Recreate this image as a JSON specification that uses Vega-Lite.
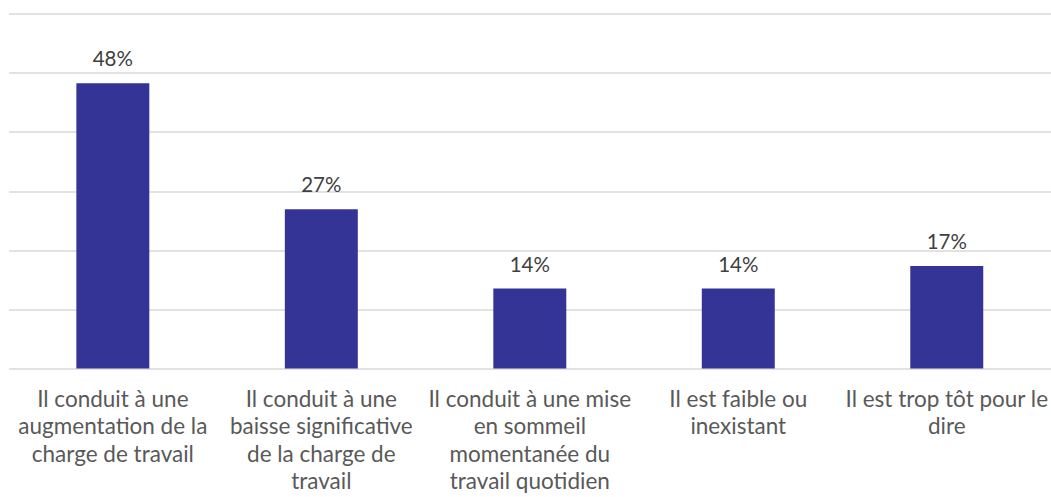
{
  "$schema": "https://vega.github.io/schema/vega-lite/v6.json",
  "autosize": "none",
  "width": 1042.4,
  "height": 355,
  "padding": {"left": 8.6, "top": 13.4, "right": 0, "bottom": 128.6},
  "background": "white",
  "data": {
    "values": [
      {"categorie": "Il conduit à une\naugmentation de la\ncharge de travail", "part": 48.2, "etiquette": "48%"},
      {"categorie": "Il conduit à une\nbaisse significative\nde la charge de\ntravail", "part": 26.9, "etiquette": "27%"},
      {"categorie": "Il conduit à une mise\nen sommeil\nmomentanée du\ntravail quotidien", "part": 13.5, "etiquette": "14%"},
      {"categorie": "Il est faible ou\ninexistant", "part": 13.5, "etiquette": "14%"},
      {"categorie": "Il est trop tôt pour le\ndire", "part": 17.3, "etiquette": "17%"}
    ]
  },
  "config": {
    "view": {"stroke": null},
    "font": "Lato"
  },
  "encoding": {
    "x": {
      "field": "categorie",
      "type": "nominal",
      "sort": null,
      "scale": {"paddingInner": 0.65, "paddingOuter": 0.325},
      "axis": {
        "title": null,
        "labelAngle": 0,
        "domain": false,
        "ticks": false,
        "labelExpr": "split(datum.value, '\\n')",
        "labelFont": "Lato",
        "labelFontSize": 22.5,
        "labelColor": "#595959",
        "labelLineHeight": 27.5,
        "labelBaseline": "alphabetic",
        "labelPadding": 38,
        "labelLimit": 0
      }
    },
    "y": {
      "field": "part",
      "type": "quantitative",
      "scale": {"domain": [0, 60]},
      "axis": {
        "title": null,
        "labels": false,
        "ticks": false,
        "domain": false,
        "values": [0, 10, 20, 30, 40, 50, 60],
        "grid": true,
        "gridColor": "#d9d9d9",
        "gridWidth": 1.5
      }
    }
  },
  "layer": [
    {"mark": {"type": "bar", "color": "#343497"}},
    {
      "mark": {"type": "text", "baseline": "alphabetic", "dy": -17, "font": "Lato", "fontSize": 20.5, "color": "#404040"},
      "encoding": {"text": {"field": "etiquette"}}
    }
  ]
}
